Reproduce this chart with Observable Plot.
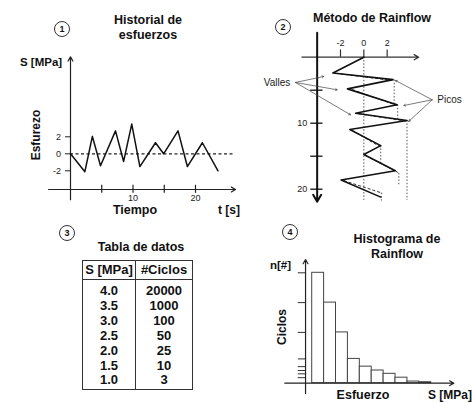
<!DOCTYPE html>
<html><head><meta charset="utf-8">
<script src="https://cdn.jsdelivr.net/npm/d3@7"></script>
<script src="https://cdn.jsdelivr.net/npm/@observablehq/plot@0.6"></script>
<style>
body{margin:0;background:#fff;font-family:"Liberation Sans",Arial,sans-serif;color:#111}
#root{position:relative;width:475px;height:403px;overflow:hidden;background:#fff}
.abs{position:absolute;white-space:nowrap;line-height:1}
.circ{position:absolute;width:16px;height:16px;box-sizing:border-box;border:1.3px solid #333;border-radius:50%;font:bold 9px "Liberation Sans",Arial;display:flex;align-items:center;justify-content:center;transform:translate(-50%,-50%)}
.tbl{position:absolute;left:82px;top:260px;width:111px;height:130px;box-sizing:border-box;border:1.6px solid #333;display:flex}
.col{height:100%;box-sizing:border-box;font:bold 13px "Liberation Sans",Arial;text-align:center}
.hdr{height:18px;line-height:18px;border-bottom:1.5px solid #333}
.vals{padding-top:4px;line-height:14.9px}
</style></head><body><div id="root"></div>
<script>
// ---------- Panel 1: stress history ----------
const historyTime   = [0, 2.3, 3.5, 4.8, 7.2, 8.5, 9.8, 11.1, 13.6, 14.9, 17.2, 18.7, 21.1, 23.6];
const historyStress = [0, -2.1, 2.05, -1.4, 2.7, -0.9, 3.5, -1.5, 1.3, 0, 2.7, -1.5, 1.3, -2.0];
const historyXTicks = [5, 10, 15, 20];
const historyXLabels = [10, 20];
const historyYTicks = [-2, 0, 2];

// ---------- Panel 2: rainflow method ----------
const rainTime   = [0, 2.4, 3.4, 4.8, 7.2, 8.5, 9.6, 10.95, 13.4, 14.75, 17.2, 18.6, 21.2];
const rainStress = [0, -2.65, 2.5, -1.4, 2.85, -0.7, 3.7, -1.2, 1.45, 0, 2.7, -1.95, 1.45];
const rainSTicks = [-2, 0, 2];
const rainTTicks = [5, 10, 15, 20];
const rainTLabels = [10, 20];
const dropS  = [0, 2.6, 2.9, 3.7, 1.45, 3.0, 1.5];
const dropT1 = [0, 3.45, 7.25, 9.6, 13.4, 17.6, 20.6];
const dropT2 = [21.7, 7.1, 9.45, 21.7, 16.1, 19.5, 21.8];
const flowS1 = [-2.43, -1.0, -0.43, -1.0, 0.15, -1.71, 2.7];
const flowT1 = [2.42, 4.9, 8.58, 11.1, 14.9, 18.7, 17.2];
const flowS2 = [2.43, 2.86, 3.86, 1.43, 2.86, 1.58, 3.0];
const flowT2 = [3.53, 7.33, 9.74, 13.6, 17.4, 20.6, 17.6];
const vallesEndS = [-3.43, -2.28, -1.14];
const vallesEndT = [2.92, 4.94, 8.73];
const picosEndS = [2.71, 3.43, 3.86];
const picosEndT = [3.53, 7.32, 9.7];
const annotLabels = ["Valles", "Picos"];

// ---------- Panel 3: data table ----------
const tableStress = ["4.0", "3.5", "3.0", "2.5", "2.0", "1.5", "1.0"];
const tableCycles = [20000, 1000, 100, 50, 25, 10, 3];

// ---------- Panel 4: rainflow histogram ----------
const histBins = [0, 1, 2, 3, 4, 5, 6, 7, 8, 9];
const histCounts = [100, 73, 46, 22, 15, 11.5, 8.5, 5, 1.5, 0.9];

const root = document.getElementById("root");
const FONT = "Liberation Sans, Arial, sans-serif";

function txt(s, x, y, o = {}) {
  const d = document.createElement("div");
  d.className = "abs";
  d.textContent = s;
  d.style.left = x + "px"; d.style.top = y + "px";
  d.style.fontSize = (o.size || 12) + "px";
  d.style.fontWeight = o.bold === false ? "normal" : "bold";
  d.style.color = o.color || "#111";
  const anchor = o.anchor || "middle";
  const tx = anchor === "middle" ? "-50%" : anchor === "end" ? "-100%" : "0";
  d.style.transform = `translate(${tx},-50%)` + (o.rotate ? ` rotate(${o.rotate}deg)` : "");
  if (o.rotate) d.style.transform = `translate(-50%,-50%) rotate(${o.rotate}deg)`;
  root.appendChild(d);
}
function circ(n, x, y) {
  const d = document.createElement("div");
  d.className = "circ"; d.textContent = n;
  d.style.left = x + "px"; d.style.top = y + "px";
  root.appendChild(d);
}
function place(svg, left, top) {
  svg.style.position = "absolute";
  svg.style.left = left + "px"; svg.style.top = top + "px";
  svg.style.overflow = "visible";
  root.appendChild(svg);
}

// Panel 1
const histData = historyTime.map((t, i) => ({t, s: historyStress[i]}));
const p1 = Plot.plot({
  width: 240, height: 155, margin: 0,
  x: {domain: [-11.2, 27.2], range: [0, 240], axis: null},
  y: {domain: [-6.08, 12.15], range: [155, 0], axis: null},
  style: {fontFamily: FONT, background: "transparent"},
  marks: [
    Plot.ruleY([0], {x1: 0, x2: 26, stroke: "#222", strokeWidth: 1.2, strokeDasharray: "3,2.5"}),
    Plot.arrow([0], {x1: -3.5, x2: 26.4, y1: -4.2, y2: -4.2, stroke: "#222", strokeWidth: 1.2, headLength: 6}),
    Plot.arrow([0], {x1: 0, x2: 0, y1: -5.4, y2: 11.4, stroke: "#222", strokeWidth: 1.2, headLength: 6}),
    Plot.ruleX(historyXTicks, {x: d => d, y1: -4.65, y2: -3.7, stroke: "#222", strokeWidth: 1.2}),
    Plot.text(historyXLabels, {x: d => d, y: -5.2, text: d => String(d), fontSize: 9, fill: "#222"}),
    Plot.ruleY(historyYTicks, {y: d => d, x1: -0.8, x2: 0, stroke: "#222", strokeWidth: 1}),
    Plot.text(historyYTicks, {x: -1.5, y: d => d, text: d => String(d), textAnchor: "end", fontSize: 9, fill: "#222"}),
    Plot.line(histData, {x: "t", y: "s", stroke: "#111", strokeWidth: 1.5})
  ]
});
place(p1, 0, 50);

// Panel 2
const rainData = rainTime.map((t, i) => ({t, s: rainStress[i]}));
const drops = dropS.map((s, i) => ({s, t1: dropT1[i], t2: dropT2[i]}));
const flows = flowS1.map((s1, i) => ({s1, t1: flowT1[i], s2: flowS2[i], t2: flowT2[i]}));
const valles = vallesEndS.map((s, i) => ({s, t: vallesEndT[i]}));
const picos = picosEndS.map((s, i) => ({s, t: picosEndT[i]}));
const p2 = Plot.plot({
  width: 235, height: 185, margin: 0,
  x: {domain: [-10.57, 9.57], range: [0, 235], axis: null},
  y: {domain: [-5.56, 22.47], range: [0, 185], axis: null},
  style: {fontFamily: FONT, background: "transparent"},
  marks: [
    Plot.ruleX(drops, {x: "s", y1: "t1", y2: "t2", stroke: "#555", strokeWidth: 1, strokeDasharray: "1.5,1.8"}),
    Plot.link(flows, {x1: "s1", y1: "t1", x2: "s2", y2: "t2", stroke: "#333", strokeWidth: 1, strokeDasharray: "3,2"}),
    Plot.arrow([0], {x1: -5.3, x2: 4.7, y1: 0, y2: 0, stroke: "#333", strokeWidth: 1.3, headLength: 6}),
    Plot.arrow([0], {x1: -4.0, x2: -4.0, y1: -3.7, y2: 21.9, stroke: "#111", strokeWidth: 2, headLength: 6}),
    Plot.ruleX(rainSTicks, {x: d => d, y1: -1.1, y2: 0, stroke: "#333", strokeWidth: 1.2}),
    Plot.text(rainSTicks, {x: d => d, y: -2.1, text: d => String(d), fontSize: 9, fill: "#222"}),
    Plot.ruleY(rainTTicks, {y: d => d, x1: -4.55, x2: -3.5, stroke: "#111", strokeWidth: 1.3}),
    Plot.text(rainTLabels, {x: -4.85, y: d => d, text: d => String(d), textAnchor: "end", fontSize: 9, fill: "#222"}),
    Plot.line(rainData, {x: "s", y: "t", stroke: "#111", strokeWidth: 1.6}),
    Plot.arrow(valles, {x1: -5.86, y1: 3.83, x2: "s", y2: "t", stroke: "#444", strokeWidth: 0.7, headLength: 4}),
    Plot.arrow(picos, {x1: 5.86, y1: 6.45, x2: "s", y2: "t", stroke: "#444", strokeWidth: 0.7, headLength: 4}),
    Plot.text([annotLabels[0]], {x: -6.3, y: 3.83, text: d => d, textAnchor: "end", fontSize: 10, fill: "#222"}),
    Plot.text([annotLabels[1]], {x: 6.3, y: 6.45, text: d => d, textAnchor: "start", fontSize: 10, fill: "#222"})
  ]
});
place(p2, 240, 20);

// Panel 4
const histRects = histBins.map((b, i) => ({b, v: histCounts[i]}));
const p4 = Plot.plot({
  width: 235, height: 148, margin: 0,
  x: {domain: [-6.025, 13.72], range: [0, 235], axis: null},
  y: {domain: [-18.39, 115.67], range: [148, 0], axis: null},
  style: {fontFamily: FONT, background: "transparent"},
  marks: [
    Plot.rect(histRects, {x1: "b", x2: d => d.b + 1, y1: 0, y2: "v", fill: "white", stroke: "#444", strokeWidth: 1}),
    Plot.ruleY(histCounts.slice(0, 8), {y: d => d, x1: -1.17, x2: -0.56, stroke: "#333", strokeWidth: 1}),
    Plot.arrow([0], {x1: -2.3, x2: 11.9, y1: 0, y2: 0, stroke: "#222", strokeWidth: 1.2, headLength: 6}),
    Plot.arrow([0], {x1: -0.56, x2: -0.56, y1: -9.3, y2: 112, stroke: "#222", strokeWidth: 1.2, headLength: 6})
  ]
});
place(p4, 240, 255);

// Table (panel 3)
const tbl = document.createElement("div");
tbl.className = "tbl";
const c1 = document.createElement("div");
c1.className = "col"; c1.style.width = "53px"; c1.style.borderRight = "1.3px solid #333";
c1.innerHTML = `<div class="hdr">S [MPa]</div><div class="vals">${tableStress.join("<br>")}</div>`;
const c2 = document.createElement("div");
c2.className = "col"; c2.style.flex = "1";
c2.innerHTML = `<div class="hdr">#Ciclos</div><div class="vals">${tableCycles.join("<br>")}</div>`;
tbl.appendChild(c1); tbl.appendChild(c2);
root.appendChild(tbl);

// Titles & labels
circ("1", 62, 29); circ("2", 283, 27); circ("3", 67, 233); circ("4", 290, 232);
txt("Historial de", 148, 20, {size: 12.5});
txt("esfuerzos", 148, 35, {size: 12.5});
txt("Método de Rainflow", 372, 18, {size: 12.5});
txt("Tabla de datos", 141, 247, {size: 12.5});
txt("Histograma de", 397, 239, {size: 12.5});
txt("Rainflow", 397, 254, {size: 12.5});
txt("S [MPa]", 20, 63, {size: 11.5, anchor: "start"});
txt("Esfurezo", 36, 135, {size: 12, rotate: -90});
txt("Tiempo", 135, 210, {size: 12.5});
txt("t [s]", 218, 210, {size: 12, anchor: "start"});
txt("n[#]", 270, 266, {size: 11.5, anchor: "start"});
txt("Ciclos", 282, 327, {size: 12, rotate: -90});
txt("Esfuerzo", 363, 395, {size: 12.5});
txt("S [MPa]", 428, 395, {size: 12, anchor: "start"});
</script>
</body></html>
